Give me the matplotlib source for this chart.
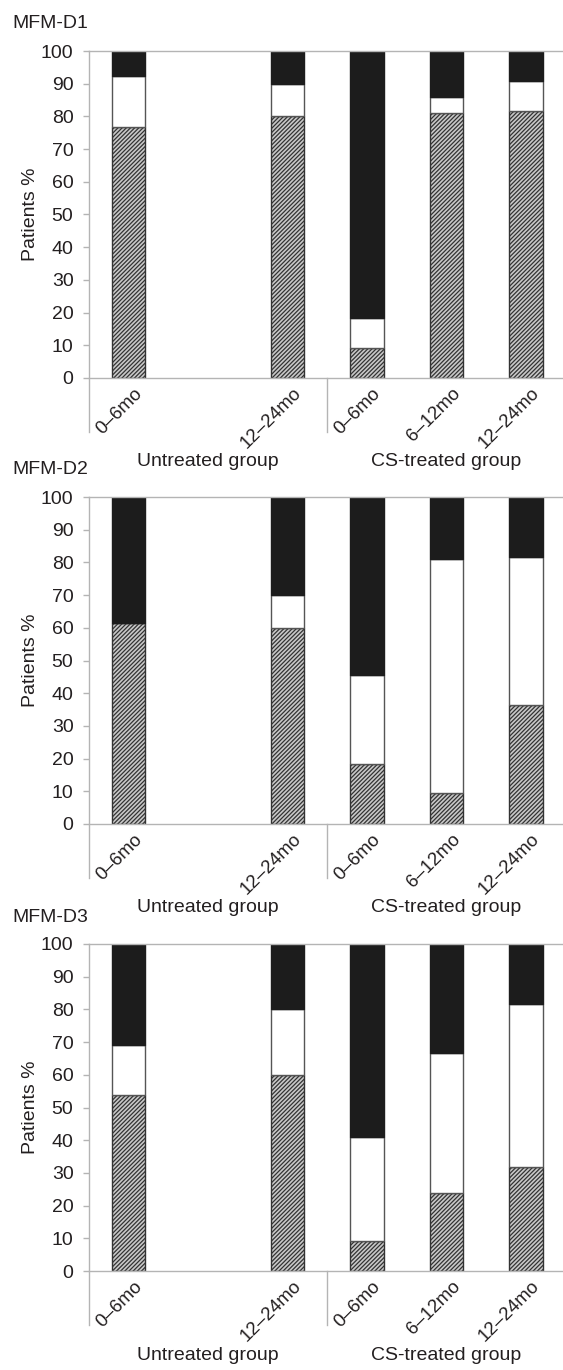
import numpy as np
import matplotlib.pyplot as plt
from matplotlib.transforms import ScaledTranslation

plt.rcParams['font.family'] = ['Liberation Sans', 'DejaVu Sans']
plt.rcParams['hatch.linewidth'] = 0.9

# category slots (slot 1 = untreated 6-12mo has no data)
slots = [0, 2, 3, 4, 5]
periods = ['0–6mo', '12–24mo', '0–6mo', '6–12mo', '12–24mo']
groups = ['Untreated group', 'CS-treated group']
panels = ['MFM-D1', 'MFM-D2', 'MFM-D3']

# percentages: hatched (bottom), white (middle), black (top)
d1_hatched = [76.9, 80.0, 9.1, 81.0, 81.8]
d1_white = [15.4, 10.0, 9.1, 4.8, 9.1]
d1_black = [7.7, 10.0, 81.8, 14.2, 9.1]

d2_hatched = [61.5, 60.0, 18.2, 9.5, 36.4]
d2_white = [0.0, 10.0, 27.3, 71.4, 45.4]
d2_black = [38.5, 30.0, 54.5, 19.1, 18.2]

d3_hatched = [53.8, 60.0, 9.1, 23.8, 31.8]
d3_white = [15.4, 20.0, 31.8, 42.9, 50.0]
d3_black = [30.8, 20.0, 59.1, 33.3, 18.2]

data = [(d1_hatched, d1_white, d1_black),
        (d2_hatched, d2_white, d2_black),
        (d3_hatched, d3_white, d3_black)]

W, H = 563, 1370
fig = plt.figure(figsize=(W / 100, H / 100), dpi=100)

axis_grey = '#b4b4b4'
tops = [51, 497, 944]
ph = 327
left_px = 88.75
width_px = 477

for k in range(3):
    hatched, white, black = data[k]
    ax = fig.add_axes([left_px / W, 1 - (tops[k] + ph) / H, width_px / W, ph / H])
    x = np.array(slots)
    h = np.array(hatched)
    w = np.array(white)
    b = np.array(black)
    ax.bar(x, h, width=0.42, color='#c8c8c8', edgecolor='#333333', hatch='////////', linewidth=1.0)
    ax.bar(x, w, width=0.42, bottom=h, color='white', edgecolor='#555555', linewidth=1.0)
    ax.bar(x, b, width=0.42, bottom=h + w, color='#1c1c1c', edgecolor='#1c1c1c', linewidth=1.0)

    ax.set_xlim(-0.5, 5.5)
    ax.set_ylim(0, 100)
    ax.set_yticks(np.arange(0, 101, 10))
    ax.tick_params(axis='y', length=4, width=1, color=axis_grey, pad=7, labelsize=14, labelcolor='#231f20')
    ax.set_xticks(slots)
    ax.set_xticklabels(periods, rotation=45, ha='right', va='top', fontsize=13.5, color='#231f20')
    ax.tick_params(axis='x', length=0, pad=5)
    off = ScaledTranslation(17 / 100, 0, fig.dpi_scale_trans)
    for lab in ax.get_xticklabels():
        lab.set_transform(lab.get_transform() + off)

    for s in ['top', 'bottom']:
        ax.spines[s].set_color(axis_grey)
        ax.spines[s].set_linewidth(1)
    ax.spines['right'].set_visible(False)
    ax.spines['left'].set_visible(False)
    ext = -54 / ph * 100
    ax.plot([-0.5, -0.5], [100, ext], color=axis_grey, lw=1, clip_on=False)
    ax.plot([2.5, 2.5], [0, ext], color=axis_grey, lw=1, clip_on=False)

    ax.set_ylabel('Patients %', fontsize=14, color='#231f20')
    ax.yaxis.set_label_coords(-0.105, 0.5)

    ax.text(1.0, -84 / ph * 100, groups[0], ha='center', va='center', fontsize=14,
            color='#231f20', clip_on=False)
    ax.text(4.0, -84 / ph * 100, groups[1], ha='center', va='center', fontsize=14,
            color='#231f20', clip_on=False)
    ax.text((12 - left_px) / width_px, 1 + 27 / ph, panels[k], transform=ax.transAxes,
            ha='left', va='center', fontsize=14, color='#231f20', clip_on=False)

fig.savefig('out.png', dpi=100)
